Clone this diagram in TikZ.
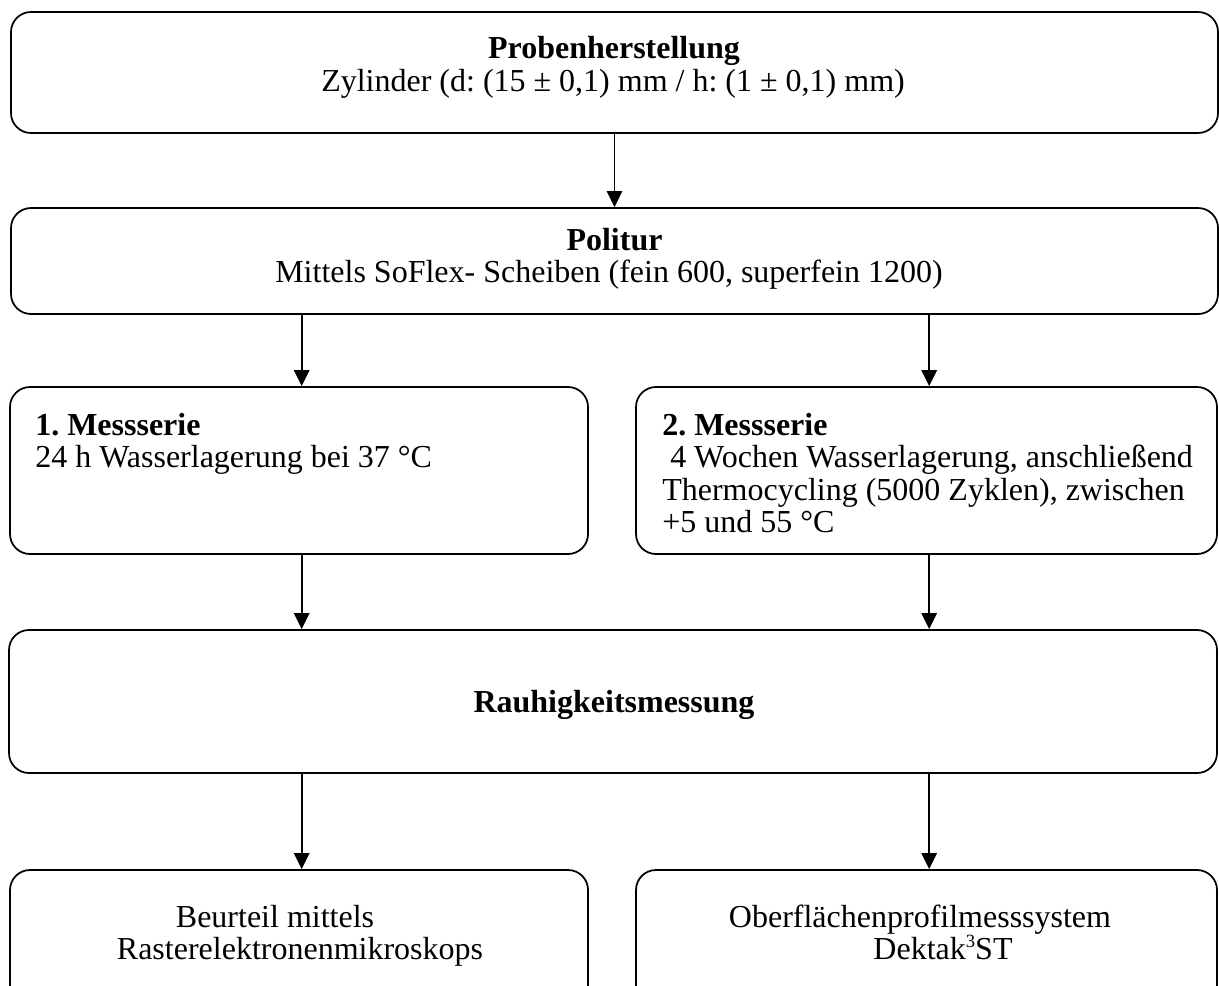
\documentclass[tikz,border=0pt]{standalone}
\usepackage{fontspec}
\setmainfont{Liberation Serif}
\usetikzlibrary{arrows.meta}
\frenchspacing

\tikzset{
    kasten/.style={draw, line width=1.3pt, rounded corners=15pt, inner sep=0pt},
    pfeil/.style={line width=1.3pt, -{Triangle[length=12pt,width=11.5pt]}},
    zeile/.style={inner sep=0pt, anchor=base, font=\fontsize{24}{24.5}\selectfont},
    zeilelinks/.style={zeile, anchor=base west}
}
\newcommand{\hochdrei}{\raisebox{0.36em}{\fontsize{14}{14}\selectfont 3}}

\begin{document}
\begin{tikzpicture}[x=0.75pt, y=-0.75pt]
        \useasboundingbox (0,0) rectangle (1219,985);
        \clip (0,0) rectangle (1219,985);

        % Kaesten
        \node[kasten, minimum width=905.25pt, minimum height=90.75pt] (proben) at (614.5,72.5) {};
        \node[kasten, minimum width=905.25pt, minimum height=79.5pt] (politur) at (614.5,261) {};
        \node[kasten, minimum width=433.5pt, minimum height=125.25pt] (serie1) at (299,470.5) {};
        \node[kasten, minimum width=435.75pt, minimum height=125.25pt] (serie2) at (926.5,470.5) {};
        \node[kasten, minimum width=906pt, minimum height=107.25pt] (rauh) at (613,701.5) {};
        \node[kasten, minimum width=433.5pt, minimum height=105pt] (rem) at (299,940) {};
        \node[kasten, minimum width=435.75pt, minimum height=105pt] (dektak) at (926.5,940) {};

        % Texte
        \node[zeile] (probentitel) at (614,58.5) {\textbf{Probenherstellung}};
        \node[zeile] (probentext) at (613,91) {Zylinder (d: (15 ± 0,1) mm / h: (1 ± 0,1) mm)};
        \node[zeile] (politurtitel) at (614.5,250) {\textbf{Politur}};
        \node[zeile] (politurtext) at (609,282.5) {Mittels SoFlex- Scheiben (fein 600, superfein 1200)};

        \node[zeilelinks] (serie1titel) at (35,435) {\textbf{1. Messserie}};
        \node[zeilelinks] (serie1text) at (35,467.5) {24 h Wasserlagerung bei 37 °C};
        \node[zeilelinks] (serie2titel) at (662,435) {\textbf{2. Messserie}};
        \node[zeilelinks] (serie2texta) at (662,467.5) {\ 4 Wochen Wasserlagerung, anschließend};
        \node[zeilelinks] (serie2textb) at (662,500) {Thermocycling (5000 Zyklen), zwischen};
        \node[zeilelinks] (serie2textc) at (662,532.5) {+5 und 55 °C};

        \node[zeile] (rauhtitel) at (614,712) {\textbf{Rauhigkeitsmessung}};

        \node[zeile] (remtexta) at (275,927) {Beurteil mittels};
        \node[zeile] (remtextb) at (300,959.5) {Rasterelektronenmikroskops};
        \node[zeile] (dektaktexta) at (920,927) {Oberflächenprofilmesssystem};
        \node[zeile] (dektaktextb) at (943,959.5) {Dektak\hochdrei ST};

        % Pfeile
        \draw[pfeil] (proben.south) -- (politur.north);
        \draw[pfeil] ([xshift=2pt]serie1.north |- politur.south) -- ([xshift=2pt]serie1.north);
        \draw[pfeil] ([xshift=2pt]serie2.north |- politur.south) -- ([xshift=2pt]serie2.north);
        \draw[pfeil] ([xshift=2pt]serie1.south) -- ([xshift=2pt]serie1.south |- rauh.north);
        \draw[pfeil] ([xshift=2pt]serie2.south) -- ([xshift=2pt]serie2.south |- rauh.north);
        \draw[pfeil] ([xshift=2pt]rem.north |- rauh.south) -- ([xshift=2pt]rem.north);
        \draw[pfeil] ([xshift=2pt]dektak.north |- rauh.south) -- ([xshift=2pt]dektak.north);
\end{tikzpicture}
\end{document}
